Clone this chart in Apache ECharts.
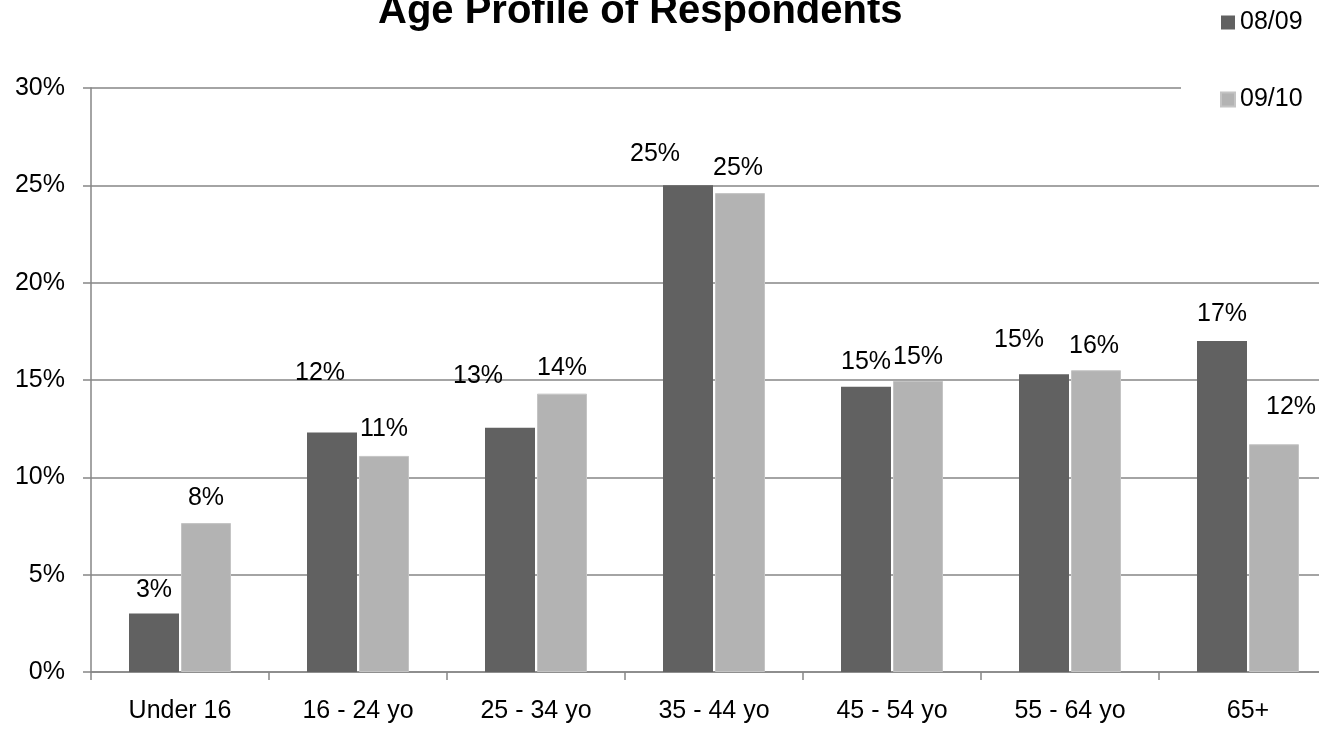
<!DOCTYPE html>
<html>
<head>
<meta charset="utf-8">
<script src="https://cdn.jsdelivr.net/npm/echarts@6/dist/echarts.min.js"></script>
<style>
  html, body { margin: 0; padding: 0; background: #fff; }
  #chart { width: 1319px; height: 731px; }
</style>
</head>
<body>
<div id="chart"></div>
<script>
// ---- data ----
const categories = ['Under 16', '16 - 24 yo', '25 - 34 yo', '35 - 44 yo', '45 - 54 yo', '55 - 64 yo', '65+'];
const seriesNames = ['08/09', '09/10'];
const values0809 = [3.0, 12.3, 12.55, 25.0, 14.65, 15.3, 17.0];
const values0910 = [7.65, 11.1, 14.3, 24.6, 14.95, 15.5, 11.7];
const yTickValues = [0, 5, 10, 15, 20, 25, 30];

// ---- label nudges (style only: how the original placed some labels) ----
const nudge0809 = [[0, 1], [-12, -35], [-32, -27], [-33, -7], [0, 0], [-25, -10], [0, -2]];
const nudge0910 = [[0, 0], [0, -2], [0, -1], [-2, -1], [0, 1], [-2, 0], [17, -13]];

const FONT = '"Liberation Sans", Arial, Helvetica, sans-serif';
const AXIS_GREY = '#868686';

function withNudges(vals, nudges) {
  return vals.map((v, i) => ({ value: v, label: { offset: nudges[i] } }));
}

const chart = echarts.init(document.getElementById('chart'), null, { renderer: 'canvas' });

const option = {
  backgroundColor: '#ffffff',
  animation: false,
  textStyle: { fontFamily: FONT },
  title: {
    text: 'Age Profile of Respondents',
    left: 378,
    top: -8,
    padding: 0,
    textStyle: { fontFamily: FONT, fontSize: 40, fontWeight: 'bold', color: '#000' }
  },
  legend: {
    data: seriesNames,
    orient: 'vertical',
    left: 1181,
    top: 0,
    padding: [10, 30, 10, 39],
    itemGap: 52,
    itemWidth: 14,
    itemHeight: 14,
    icon: 'rect',
    backgroundColor: '#ffffff',
    textStyle: { fontFamily: FONT, fontSize: 25, color: '#000' }
  },
  grid: { left: 91, width: 1246, top: 88, bottom: 59, containLabel: false, outerBoundsMode: 'none' },
  xAxis: {
    type: 'category',
    data: categories,
    boundaryGap: true,
    axisLine: { show: true, lineStyle: { color: AXIS_GREY, width: 1.5 } },
    axisTick: { show: true, alignWithLabel: false, length: 8, lineStyle: { color: AXIS_GREY, width: 1.5 } },
    axisLabel: { fontFamily: FONT, fontSize: 25, color: '#000', margin: 27, interval: 0 },
    splitLine: { show: false }
  },
  yAxis: {
    type: 'value',
    min: yTickValues[0],
    max: yTickValues[yTickValues.length - 1],
    interval: yTickValues[1] - yTickValues[0],
    axisLine: { show: true, lineStyle: { color: AXIS_GREY, width: 1.5 } },
    axisTick: { show: true, length: 8, lineStyle: { color: AXIS_GREY, width: 1.5 } },
    axisLabel: { fontFamily: FONT, fontSize: 25, color: '#000', margin: 26, formatter: '{value}%' },
    splitLine: { show: true, lineStyle: { color: AXIS_GREY, width: 1.5 } }
  },
  series: [
    {
      name: seriesNames[0],
      type: 'bar',
      data: withNudges(values0809, nudge0809),
      barWidth: 50,
      barGap: '4%',
      itemStyle: { color: '#616161' },
      label: {
        show: true, position: 'top', distance: 12,
        fontFamily: FONT, fontSize: 25, color: '#000',
        formatter: p => Math.round(p.value) + '%'
      }
    },
    {
      name: seriesNames[1],
      type: 'bar',
      data: withNudges(values0910, nudge0910),
      barWidth: 50,
      barGap: '4%',
      itemStyle: { color: '#b3b3b3', borderColor: '#c4c4c4', borderWidth: 1 },
      label: {
        show: true, position: 'top', distance: 12,
        fontFamily: FONT, fontSize: 25, color: '#000',
        formatter: p => Math.round(p.value) + '%'
      }
    }
  ]
};

chart.setOption(option);
</script>
</body>
</html>
